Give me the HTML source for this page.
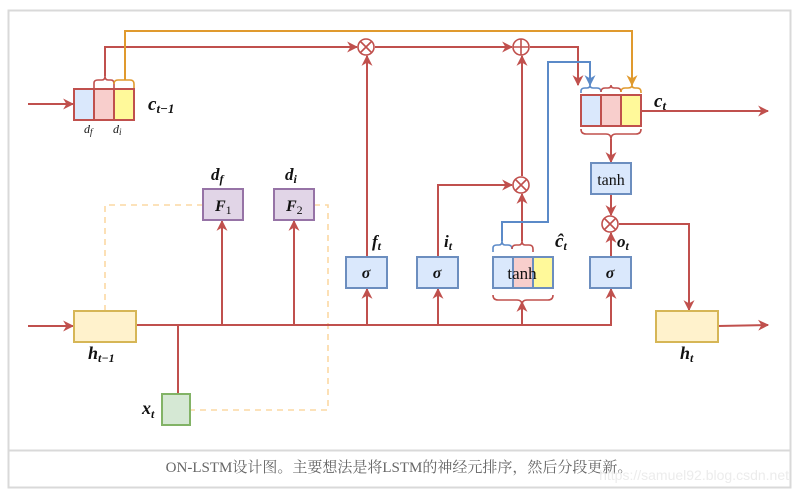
<!DOCTYPE html>
<html><head><meta charset="utf-8"><style>
html,body{margin:0;padding:0;background:#fff;}
svg{display:block;}
.m{font-family:"Liberation Serif","Noto Serif CJK SC",serif;font-style:italic;font-weight:bold;fill:#111;}
</style></head><body>
<svg width="802" height="495" viewBox="0 0 802 495" xmlns="http://www.w3.org/2000/svg">
<defs>
<marker id="ar" viewBox="0 0 10 10" refX="9" refY="5" markerWidth="11" markerHeight="11" orient="auto-start-reverse" markerUnits="userSpaceOnUse"><path d="M0,0 L10,5 L0,10 L3,5 z" fill="#c0504d"/></marker>
<marker id="ao" viewBox="0 0 10 10" refX="9" refY="5" markerWidth="11" markerHeight="11" orient="auto" markerUnits="userSpaceOnUse"><path d="M0,0 L10,5 L0,10 L3,5 z" fill="#e09a2e"/></marker>
<marker id="ab" viewBox="0 0 10 10" refX="9" refY="5" markerWidth="11" markerHeight="11" orient="auto" markerUnits="userSpaceOnUse"><path d="M0,0 L10,5 L0,10 L3,5 z" fill="#5b8ac8"/></marker>
</defs>
<rect x="8.5" y="10.5" width="782" height="477" fill="none" stroke="#d9d9d9" stroke-width="2"/>
<line x1="8" y1="450.5" x2="791" y2="450.5" stroke="#d9d9d9" stroke-width="2"/>
<text x="399" y="472" text-anchor="middle" font-family="Liberation Serif,'Noto Serif CJK SC',serif" font-size="15" fill="#666">ON-LSTM设计图。主要想法是将LSTM的神经元排序，然后分段更新。</text>
<text x="789" y="480" text-anchor="end" font-family="Liberation Sans,sans-serif" font-size="14" fill="#ececec">https://samuel92.blog.csdn.net</text>

<g fill="none" stroke-width="2">
<path d="M105,311 V205 H203 M314,205 H328 V410 H190" stroke="#fbd9a3" stroke-dasharray="6,5" stroke-width="1.6"/>
<line x1="28" y1="104" x2="73" y2="104" stroke="#c0504d" marker-end="url(#ar)"/>
<line x1="28" y1="326" x2="73" y2="326" stroke="#c0504d" marker-end="url(#ar)"/>
<path d="M136,325 H611 V289" stroke="#c0504d" marker-end="url(#ar)"/>
<path d="M178,394 V325" stroke="#c0504d"/>
<line x1="222" y1="325" x2="222" y2="221" stroke="#c0504d" marker-end="url(#ar)"/>
<line x1="294" y1="325" x2="294" y2="221" stroke="#c0504d" marker-end="url(#ar)"/>
<line x1="367" y1="325" x2="367" y2="289" stroke="#c0504d" marker-end="url(#ar)"/>
<line x1="438" y1="325" x2="438" y2="289" stroke="#c0504d" marker-end="url(#ar)"/>
<line x1="522" y1="325" x2="522" y2="302" stroke="#c0504d" marker-end="url(#ar)"/>
<path d="M493,295 Q493,300 498,300 H517 Q522,300 522,305 Q522,300 527,300 H548 Q553,300 553,295" stroke="#c0504d" stroke-width="1.6"/>
<line x1="367" y1="257" x2="367" y2="56" stroke="#c0504d" marker-end="url(#ar)"/>
<path d="M94,88 V83 Q94,80 98,80 H102 Q105,80 105,76 Q105,80 108,80 H111 Q114,80 114,84 V88" stroke="#c0504d" stroke-width="1.6"/>
<path d="M114,84 Q114,80 118,80 H130 Q134,80 134,84 V88" stroke="#e09a2e" stroke-width="1.6"/>
<path d="M105,76 V47 H357" stroke="#c0504d" marker-end="url(#ar)"/>
<path d="M125,80 V31 H632 V85" stroke="#e09a2e" marker-end="url(#ao)"/>
<path d="M375,47 H512" stroke="#c0504d" marker-end="url(#ar)"/>
<path d="M530,47 H578 V85" stroke="#c0504d" marker-end="url(#ar)"/>
<path d="M438,257 V185 H512" stroke="#c0504d" marker-end="url(#ar)"/>
<line x1="522" y1="176" x2="522" y2="56" stroke="#c0504d" marker-end="url(#ar)"/>
<path d="M493,252 V248 Q493,245 497,245 H499 Q502,245 502,241 Q502,245 505,245 H508 Q512,245 512,249" stroke="#5b8ac8" stroke-width="1.6"/>
<path d="M512,249 Q512,245 516,245 H519 Q522,245 522,241 Q522,245 525,245 H529 Q533,245 533,249 V252" stroke="#c0504d" stroke-width="1.6"/>
<line x1="522" y1="241" x2="522" y2="194" stroke="#c0504d" marker-end="url(#ar)"/>
<path d="M502,241 V222 H548 V62 H590 V85" stroke="#5b8ac8" marker-end="url(#ab)"/>
<path d="M581,93 V91 Q581,88 585,88 H587 Q590,88 590,85 Q590,88 593,88 H597 Q601,88 601,92" stroke="#5b8ac8" stroke-width="1.6"/>
<path d="M601,92 Q601,88 605,88 H608 Q611,88 611,85 Q611,88 614,88 H617 Q621,88 621,92" stroke="#c0504d" stroke-width="1.6"/>
<path d="M621,92 Q621,88 625,88 H628 Q632,88 632,85 Q632,88 635,88 H637 Q641,88 641,92 V93" stroke="#e09a2e" stroke-width="1.6"/>
<path d="M581,129 Q581,134 586,134 H606 Q611,134 611,139 Q611,134 616,134 H636 Q641,134 641,129" stroke="#c0504d" stroke-width="1.6"/>
<line x1="611" y1="139" x2="611" y2="162" stroke="#c0504d" marker-end="url(#ar)"/>
<line x1="611" y1="194" x2="611" y2="215" stroke="#c0504d" marker-end="url(#ar)"/>
<line x1="611" y1="257" x2="611" y2="233" stroke="#c0504d" marker-end="url(#ar)"/>
<path d="M619,224 H689 V310" stroke="#c0504d" marker-end="url(#ar)"/>
<line x1="641" y1="111" x2="768" y2="111" stroke="#c0504d" marker-end="url(#ar)"/>
<line x1="718" y1="326" x2="768" y2="325" stroke="#c0504d" marker-end="url(#ar)"/>
</g>

<g fill="#fff" stroke="#c0504d" stroke-width="1.6">
<circle cx="366" cy="47" r="8"/><path d="M360.5,41.5 L371.5,52.5 M371.5,41.5 L360.5,52.5"/>
<circle cx="521" cy="47" r="8"/><path d="M513,47 H529 M521,39 V55"/>
<circle cx="521" cy="185" r="8"/><path d="M515.5,179.5 L526.5,190.5 M526.5,179.5 L515.5,190.5"/>
<circle cx="610" cy="224" r="8"/><path d="M604.5,218.5 L615.5,229.5 M615.5,218.5 L604.5,229.5"/>
</g>

<g stroke-width="2">
<rect x="74" y="89" width="20" height="31" fill="#dae8fc" stroke="#c0504d"/>
<rect x="94" y="89" width="20" height="31" fill="#f8cecc" stroke="#c0504d"/>
<rect x="114" y="89" width="20" height="31" fill="#fff99a" stroke="#c0504d"/>
<rect x="581" y="95" width="20" height="31" fill="#dae8fc" stroke="#c0504d"/>
<rect x="601" y="95" width="20" height="31" fill="#f8cecc" stroke="#c0504d"/>
<rect x="621" y="95" width="20" height="31" fill="#fff99a" stroke="#c0504d"/>
<rect x="493" y="257" width="20" height="31" fill="#dae8fc" stroke="#6c8ebf"/>
<rect x="513" y="257" width="20" height="31" fill="#f8cecc" stroke="#6c8ebf"/>
<rect x="533" y="257" width="20" height="31" fill="#fff99a" stroke="#6c8ebf"/>
<rect x="591" y="163" width="40" height="31" fill="#dae8fc" stroke="#6c8ebf"/>
<rect x="346" y="257" width="41" height="31" fill="#dae8fc" stroke="#6c8ebf"/>
<rect x="417" y="257" width="41" height="31" fill="#dae8fc" stroke="#6c8ebf"/>
<rect x="590" y="257" width="41" height="31" fill="#dae8fc" stroke="#6c8ebf"/>
<rect x="203" y="189" width="40" height="31" fill="#e1d5e7" stroke="#9673a6"/>
<rect x="274" y="189" width="40" height="31" fill="#e1d5e7" stroke="#9673a6"/>
<rect x="74" y="311" width="62" height="31" fill="#fff2cc" stroke="#d6b656"/>
<rect x="656" y="311" width="62" height="31" fill="#fff2cc" stroke="#d6b656"/>
<rect x="162" y="394" width="28" height="31" fill="#d5e8d4" stroke="#82b366"/>
</g>

<g font-family="Liberation Serif,serif" fill="#111">
<text x="611" y="185" font-size="16" text-anchor="middle">tanh</text>
<text x="522" y="279" font-size="17" text-anchor="middle">tanh</text>
</g>
<g class="m">
<text x="366" y="278" font-size="16" text-anchor="middle">σ</text>
<text x="437" y="278" font-size="16" text-anchor="middle">σ</text>
<text x="610" y="278" font-size="16" text-anchor="middle">σ</text>
<text x="215" y="211" font-size="16">F<tspan font-size="12" font-style="normal" font-weight="normal" dy="3">1</tspan></text>
<text x="286" y="211" font-size="16">F<tspan font-size="12" font-style="normal" font-weight="normal" dy="3">2</tspan></text>
<text x="211" y="180" font-size="17">d<tspan font-size="12" dy="3">f</tspan></text>
<text x="285" y="180" font-size="17">d<tspan font-size="12" dy="3">i</tspan></text>
<text x="84" y="133" font-size="12" font-weight="normal">d<tspan font-size="9" dy="2">f</tspan></text>
<text x="113" y="133" font-size="12" font-weight="normal">d<tspan font-size="9" dy="2">i</tspan></text>
<text x="148" y="110" font-size="19">c<tspan font-size="13" dy="3">t−1</tspan></text>
<text x="654" y="107" font-size="19">c<tspan font-size="13" dy="3">t</tspan></text>
<text x="372" y="247" font-size="17">f<tspan font-size="12" dy="3">t</tspan></text>
<text x="444" y="247" font-size="17">i<tspan font-size="12" dy="3">t</tspan></text>
<text x="555" y="247" font-size="19">ĉ<tspan font-size="12" dy="3">t</tspan></text>
<text x="617" y="247" font-size="17">o<tspan font-size="12" dy="3">t</tspan></text>
<text x="88" y="359" font-size="18">h<tspan font-size="12" dy="3">t−1</tspan></text>
<text x="680" y="359" font-size="18">h<tspan font-size="12" dy="3">t</tspan></text>
<text x="142" y="414" font-size="18">x<tspan font-size="12" dy="4">t</tspan></text>
</g>
</svg>
</body></html>
